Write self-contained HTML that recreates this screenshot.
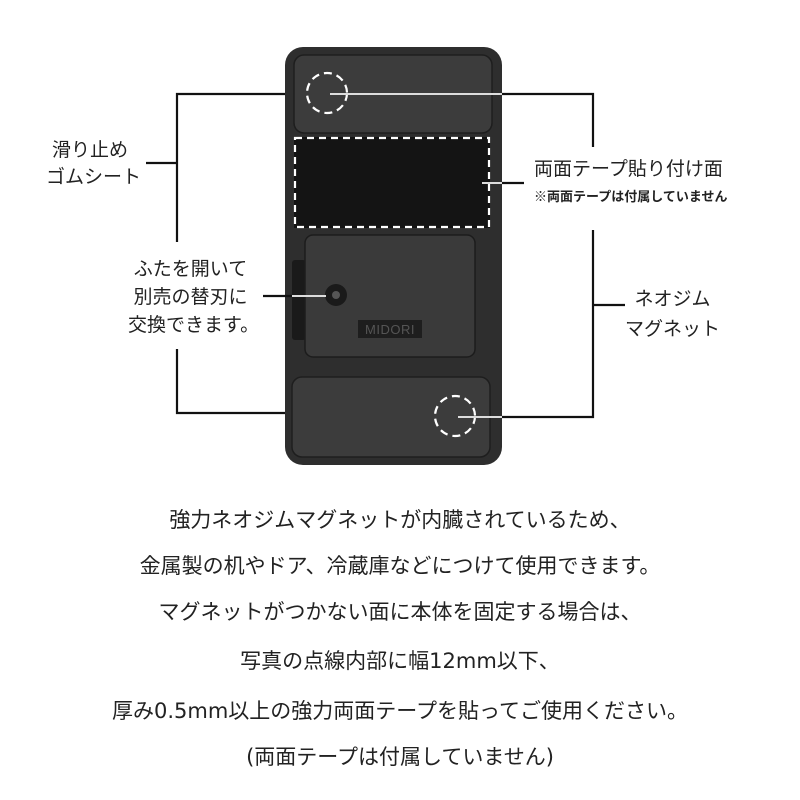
<!DOCTYPE html>
<html><head><meta charset="utf-8"><style>
body{margin:0;background:#fff;width:800px;height:800px;position:relative;overflow:hidden;font-family:"Liberation Sans","Noto Sans CJK JP",sans-serif;color:#222}
.t{position:absolute;white-space:nowrap;line-height:1}
.c{position:absolute;left:0;width:800px;text-align:center;font-size:21px;line-height:1;white-space:nowrap;font-family:"DejaVu Sans","Noto Sans CJK JP",sans-serif}
</style></head><body>
<svg width="800" height="800" style="position:absolute;left:0;top:0">
<rect x="285" y="47" width="217" height="418" rx="18" fill="#2e2e2e"/>
<rect x="294" y="55" width="198" height="78" rx="10" fill="#3c3c3c" stroke="#1e1e1e" stroke-width="1.5"/>
<rect x="294" y="137" width="196" height="91" fill="#141414"/>
<rect x="295" y="138" width="194" height="89" fill="none" stroke="#fff" stroke-width="2.2" stroke-dasharray="7,5"/>
<rect x="292" y="260" width="14" height="80" rx="3" fill="#1a1a1a"/>
<rect x="305" y="235" width="170" height="122" rx="8" fill="#3a3a3a" stroke="#1c1c1c" stroke-width="1.5"/>
<circle cx="336" cy="295" r="11" fill="#1a1a1a"/>
<circle cx="336" cy="295" r="4" fill="#555"/>
<rect x="358" y="320" width="64" height="18" fill="#1e1e1e"/>
<text x="390" y="334" text-anchor="middle" font-family="Liberation Sans" font-size="13" fill="#555" letter-spacing="0.5">MIDORI</text>
<rect x="292" y="377" width="198" height="80" rx="10" fill="#3c3c3c" stroke="#1e1e1e" stroke-width="1.5"/>
<circle cx="327" cy="93" r="20" fill="none" stroke="#fff" stroke-width="2.2" stroke-dasharray="8,5"/>
<circle cx="455" cy="416" r="20" fill="none" stroke="#fff" stroke-width="2.2" stroke-dasharray="8,5"/>
<g stroke="#111" stroke-width="2.2" fill="none">
<polyline points="285,94 177,94 177,242"/>
<line x1="146" y1="163" x2="177" y2="163"/>
<polyline points="177,349 177,413 285,413"/>
<line x1="263" y1="296" x2="292" y2="296"/>
<polyline points="502,94 593,94 593,147"/>
<line x1="502" y1="183" x2="524" y2="183"/>
<polyline points="593,230 593,417 502,417"/>
<line x1="593" y1="305" x2="625" y2="305"/>
</g>
<g stroke="#ddd" stroke-width="2">
<line x1="330" y1="94" x2="502" y2="94"/>
<line x1="458" y1="417" x2="502" y2="417"/>
<line x1="482" y1="183" x2="502" y2="183"/>
<line x1="292" y1="296" x2="326" y2="296"/>
</g>
</svg>
<div class="t" style="left:52px;top:141px;font-size:19px">滑り止め</div>
<div class="t" style="left:46px;top:168px;font-size:19px">ゴムシート</div>
<div class="t" style="left:128px;top:256px;font-size:19px;text-align:center;line-height:28px;width:125px">ふたを開いて<br>別売の替刃に<br>交換できます。</div>
<div class="t" style="left:534px;top:160px;font-size:19px">両面テープ貼り付け面</div>
<div class="t" style="left:534px;top:190px;font-size:13px;font-weight:bold">※両面テープは付属していません</div>
<div class="t" style="left:625px;top:285px;font-size:19px;text-align:center;line-height:30px;width:95px">ネオジム<br>マグネット</div>
<div class="c" style="top:510px">強力ネオジムマグネットが内臓されているため、</div>
<div class="c" style="top:556px">金属製の机やドア、冷蔵庫などにつけて使用できます。</div>
<div class="c" style="top:602px">マグネットがつかない面に本体を固定する場合は、</div>
<div class="c" style="top:651px">写真の点線内部に幅12mm以下、</div>
<div class="c" style="top:701px">厚み0.5mm以上の強力両面テープを貼ってご使用ください。</div>
<div class="c" style="top:747px">(両面テープは付属していません)</div>
</body></html>
